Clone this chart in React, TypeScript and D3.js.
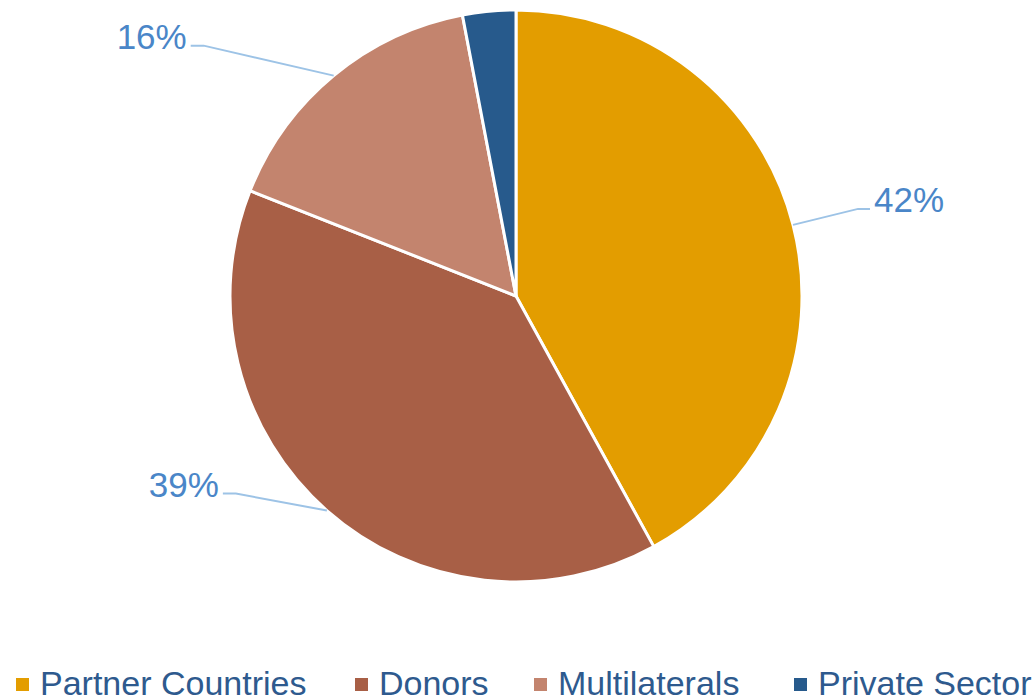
import React from "react";
import * as d3 from "d3";

const categories = ["Partner Countries", "Donors", "Multilaterals", "Private Sector"];
const values = [42, 39, 16, 3];
const labels = ["42%", "39%", "16%", ""];
const colors = ["#E39D00", "#A85F46", "#C3846E", "#275A8C"];
// elbow offsets from slice edge point (layout)
const elbowOffsets: [number, number][] = [[65, -16], [-91, -17], [-130, -30], [0, 0]];

const W = 1036, H = 698;
const cx = 516, cy = 296, R = 286;

export default function App() {
  const pie = d3.pie<number>().sort(null).value((d) => d);
  const arcs = pie(values);
  const arc = d3.arc<d3.PieArcDatum<number>>().innerRadius(0).outerRadius(R);

  const legendX = [16, 355, 534, 794];

  return (
    <svg width={W} height={H} style={{ position: "absolute", left: 0, top: 0, background: "#fff" }}
      fontFamily="'Liberation Sans', Arial, sans-serif">
      <g transform={`translate(${cx},${cy})`}>
        {arcs.map((a, i) => (
          <path key={i} d={arc(a) || ""} fill={colors[i]} stroke="#fff" strokeWidth={3} strokeLinejoin="round" />
        ))}
      </g>
      {arcs.map((a, i) => {
        if (!labels[i]) return null;
        const mid = (a.startAngle + a.endAngle) / 2;
        const sx = cx + R * Math.sin(mid);
        const sy = cy - R * Math.cos(mid);
        const [ox, oy] = elbowOffsets[i];
        const ex = sx + ox, ey = sy + oy;
        const right = ox > 0;
        const tx = ex + (right ? 12 : -13);
        const line = d3.line()([[sx, sy], [ex, ey], [tx, ey]]) || "";
        return (
          <g key={i}>
            <path d={line} fill="none" stroke="#9DC3E6" strokeWidth={2} />
            <text x={tx + (right ? 4 : -4)} y={ey + 3} textAnchor={right ? "start" : "end"}
              fontSize={35} fill="#4A86C8">{labels[i]}</text>
          </g>
        );
      })}
      {categories.map((c, i) => (
        <g key={c}>
          <rect x={legendX[i]} y={678} width={13} height={13} fill={colors[i]} />
          <text x={legendX[i] + 24} y={695} fontSize={34} fill="#2E5A8E">{c}</text>
        </g>
      ))}
    </svg>
  );
}
